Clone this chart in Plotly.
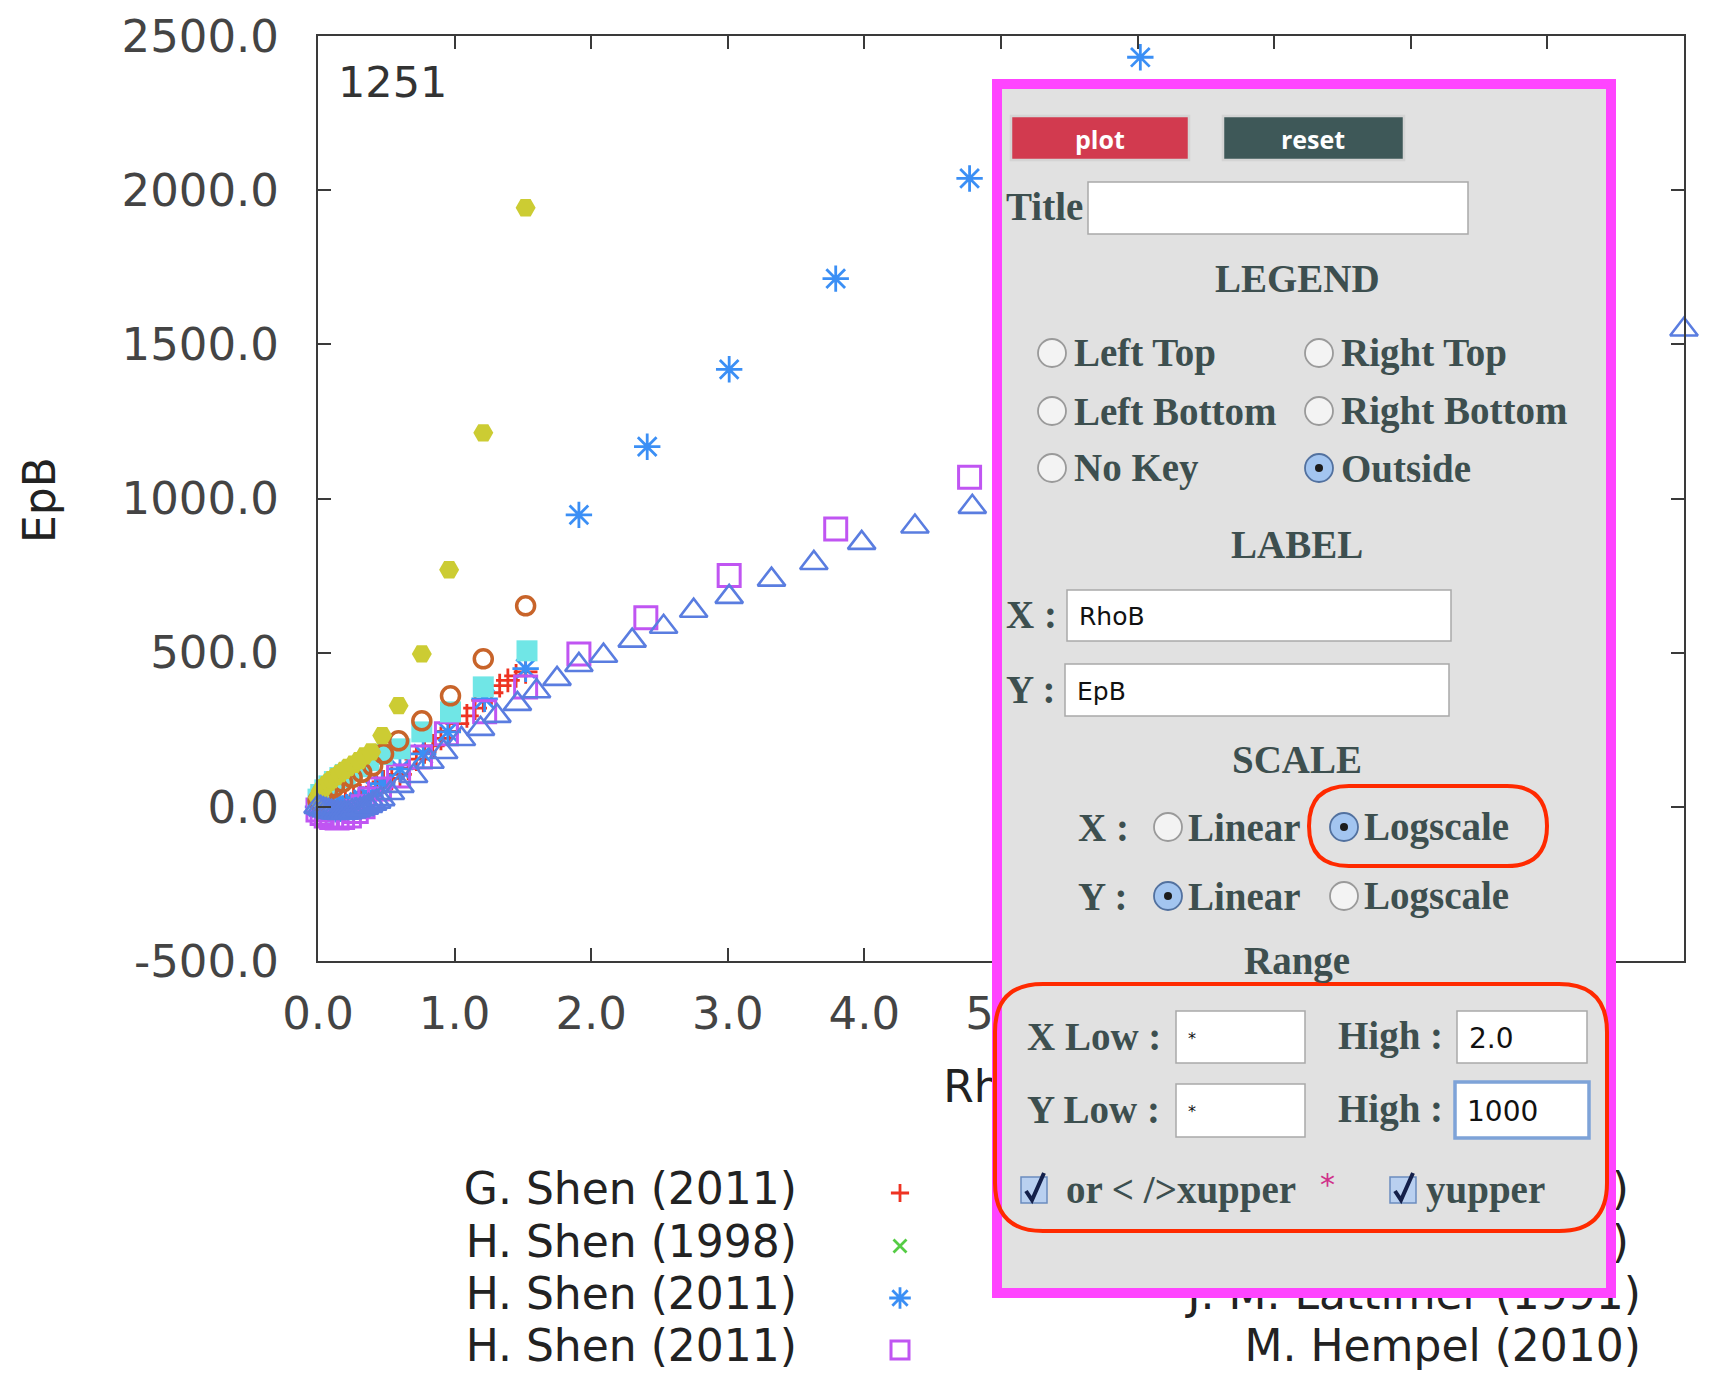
import plotly.graph_objects as go

# ---------------- data ----------------
gshen11_x = [0.05,0.1,0.15,0.2,0.26,0.31,0.37,0.43,0.48,0.54,0.6,0.66,0.72,0.78,0.84,0.9,0.96,1.02,1.09,1.15,1.21,1.27,1.33,1.39,1.45,1.52]
gshen11_y = [5,8,12,18,27,36,48,64,81,92,105,125,155,178,198,222,245,270,295,320,345,370,393,410,425,438]

hshen98_x = []
hshen98_y = []

hshen11a_x = [0.0,0.02,0.04,0.06,0.08,0.1,0.13,0.16,0.18,0.21,0.24,0.27,0.3,0.33,0.37,0.42,0.47,0.6,0.77,0.95,1.22,1.52,1.91,2.41,3.01,3.79,4.77,6.02]
hshen11a_y = [0,-3,-5,-7,-8,-8,-8,-6,-5,-1,3,9,15,24,35,52,75,123,172,243,350,448,947,1168,1419,1713,2038,2431]

hshen11b_x = [0.0,0.03,0.06,0.1,0.14,0.18,0.23,0.28,0.33,0.38,0.45,0.59,0.75,0.94,1.22,1.52,1.91,2.40,3.01,3.79,4.77]
hshen11b_y = [-10,-22,-30,-35,-36,-35,-30,-15,0,25,58,100,162,237,308,389,496,613,750,901,1069]

col2a_x = [0.0,0.02,0.05,0.08,0.12,0.16,0.2,0.25,0.3,0.37,0.47,0.6,0.76,0.97,1.21,1.53]
col2a_y = [25,40,55,68,82,95,105,118,130,150,170,188,243,308,389,506]

col2b_x = [0.0,0.03,0.07,0.12,0.18,0.25,0.32,0.40,0.48,0.59,0.76,0.97,1.21,1.52]
col2b_y = [20,35,50,65,80,95,112,133,172,214,279,360,480,652]

lattimer_x = [0.0,0.01,0.02,0.04,0.06,0.08,0.1,0.13,0.16,0.19,0.22,0.26,0.3,0.34,0.39,0.47,0.59,0.76,0.96,1.21,1.52]
lattimer_y = [30,42,52,62,72,80,88,98,108,118,128,138,150,165,178,231,328,496,769,1213,1943]

hempel_x = [0.0,0.02,0.04,0.06,0.08,0.1,0.12,0.145,0.17,0.195,0.22,0.25,0.28,0.31,0.34,0.37,0.40,0.43,0.46,0.53,0.60,0.70,0.82,0.92,1.05,1.19,1.31,1.46,1.60,1.75,1.91,2.09,2.30,2.53,2.75,3.01,3.32,3.63,3.98,4.37,4.79,10.0]
hempel_y = [0,-4,-8,-11,-14,-16,-18,-19,-20,-19,-18,-15,-12,-8,-3,3,10,17,25,45,68,100,146,178,220,253,295,334,375,415,460,490,539,584,636,681,737,791,856,909,973,1548]

legend_left = ["G. Shen (2011)", "H. Shen (1998)", "H. Shen (2011)", "H. Shen (2011)"]
legend_right = ["S. Furusawa (2011)", "C. Ishizuka (2008)", "J. M. Lattimer (1991)", "M. Hempel (2010)"]

x_ticks = [0,1,2,3,4,5,6,7,8,9,10]
x_tick_labels = ["0.0","1.0","2.0","3.0","4.0","5.0","6.0","7.0","8.0","9.0","10.0"]
y_ticks = [-500,0,500,1000,1500,2000,2500]
y_tick_labels = ["-500.0","0.0","500.0","1000.0","1500.0","2000.0","2500.0"]

x_label = "RhoB"
y_label = "EpB"
corner_text = "1251"

# ---------------- layout geometry (page pixels) ----------------
OFF = 8                      # default page body margin
W, H = 1712, 1362            # figure size
PL, PR, PT, PB = 318, 1684, 36, 961   # plot frame, page pixels

series = [
    (gshen11_x, gshen11_y, dict(symbol="cross-thin-open", size=17, color="#ee3322", line=dict(width=2.8, color="#ee3322"))),
    (hshen98_x, hshen98_y, dict(symbol="x-thin-open", size=17, color="#55cc44", line=dict(width=2.8, color="#55cc44"))),
    (hshen11a_x, hshen11a_y, dict(symbol="asterisk-open", size=22, color="#3b8ff5", line=dict(width=2.8, color="#3b8ff5"))),
    (hshen11b_x, hshen11b_y, dict(symbol="square-open", size=22, color="#c055f2", line=dict(width=3, color="#c055f2"))),
    (col2a_x, col2a_y, dict(symbol="square", size=21, color="#70e6e6", line=dict(width=0))),
    (col2b_x, col2b_y, dict(symbol="circle-open", size=18, color="#c8642a", line=dict(width=3.5, color="#c8642a"))),
    (lattimer_x, lattimer_y, dict(symbol="hexagon2", size=20, color="#cccc33", line=dict(width=0))),
    (hempel_x, hempel_y, dict(symbol="triangle-up-open", size=24, color="#5a7de0", line=dict(width=2.6, color="#5a7de0"))),
]

fig = go.Figure()

for xs, ys, mk in series:
    fig.add_trace(go.Scatter(x=xs, y=ys, mode="markers", marker=mk, cliponaxis=False,
                             xaxis="x", yaxis="y", showlegend=False, hoverinfo="skip"))

# ---------- legend (pixel overlay axes x2/y2) ----------
leg_rows = [1193, 1246, 1298, 1350]
leg_right_x = [1629, 1629, 1641, 1641]
fig.add_trace(go.Scatter(x=[797]*4, y=leg_rows, mode="text", text=legend_left,
                         textposition="middle left",
                         textfont=dict(family="DejaVu Sans", size=44, color="#222222"),
                         xaxis="x2", yaxis="y2", showlegend=False, hoverinfo="skip", cliponaxis=False))
fig.add_trace(go.Scatter(x=leg_right_x, y=leg_rows, mode="text", text=legend_right,
                         textposition="middle left",
                         textfont=dict(family="DejaVu Sans", size=44, color="#222222"),
                         xaxis="x2", yaxis="y2", showlegend=False, hoverinfo="skip", cliponaxis=False))
for i in range(4):
    mk = dict(series[i][2]); mk = {**mk, "size": mk["size"] - 4}
    fig.add_trace(go.Scatter(x=[900], y=[leg_rows[i]], mode="markers", marker=mk,
                             xaxis="x2", yaxis="y2", showlegend=False, hoverinfo="skip"))
# x-axis title as text trace so the panel can cover it
fig.add_trace(go.Scatter(x=[1001], y=[1091], mode="text", text=[x_label], textposition="middle center",
                         textfont=dict(family="DejaVu Sans", size=44, color="#222222"),
                         xaxis="x2", yaxis="y2", showlegend=False, hoverinfo="skip", cliponaxis=False))

shapes = []
annos = []

def rect(x0, y0, x1, y1, fill, line="rgba(0,0,0,0)", lw=0):
    shapes.append(dict(type="rect", xref="x2", yref="y2", x0=x0, y0=y0, x1=x1, y1=y1,
                       fillcolor=fill, line=dict(color=line, width=lw), layer="above"))

def rrect(x0, y0, x1, y1, r, color, lw):
    p = (f"M {x0+r},{y0} L {x1-r},{y0} Q {x1},{y0} {x1},{y0+r} L {x1},{y1-r} Q {x1},{y1} {x1-r},{y1} "
         f"L {x0+r},{y1} Q {x0},{y1} {x0},{y1-r} L {x0},{y0+r} Q {x0},{y0} {x0+r},{y0} Z")
    shapes.append(dict(type="path", xref="x2", yref="y2", path=p, line=dict(color=color, width=lw),
                       fillcolor="rgba(0,0,0,0)", layer="above"))

def text(x, y, s, size=39, color="#3d4f4f", family="Liberation Serif", anchor="left", bold=True):
    annos.append(dict(xref="x2", yref="y2", x=x, y=y, text=(f"<b>{s}</b>" if bold else s),
                      showarrow=False, xanchor=anchor, yanchor="middle",
                      font=dict(family=family, size=size, color=color)))

def radio(cx, cy, selected):
    r = 14
    if selected:
        shapes.append(dict(type="circle", xref="x2", yref="y2", x0=cx-r, x1=cx+r, y0=cy-r, y1=cy+r,
                           fillcolor="#a3c5f0", line=dict(color="#52719f", width=1.8), layer="above"))
        shapes.append(dict(type="circle", xref="x2", yref="y2", x0=cx-4, x1=cx+4, y0=cy-4, y1=cy+4,
                           fillcolor="#1c1c1c", line=dict(width=0), layer="above"))
    else:
        shapes.append(dict(type="circle", xref="x2", yref="y2", x0=cx-r, x1=cx+r, y0=cy-r, y1=cy+r,
                           fillcolor="#f3f3f3", line=dict(color="#9a9a9a", width=1.8), layer="above"))

def inputbox(x0, y0, x1, y1, val="", focus=False, vsize=26):
    if focus:
        rect(x0, y0, x1, y1, "#ffffff", "#7ea3d8", 3.5)
    else:
        rect(x0, y0, x1, y1, "#ffffff", "#a9a9a9", 1.5)
    if val:
        text(x0 + 10, (y0 + y1) / 2 + 1, val, size=vsize, color="#111111", family="DejaVu Sans", bold=False)

def checkbox(cx, cy):
    s = 13
    rect(cx-s, cy-s, cx+s, cy+s, "#b9d0f0", "#6b8cbf", 1.5)
    shapes.append(dict(type="path", xref="x2", yref="y2",
                       path=f"M {cx-8},{cy+1} L {cx-2},{cy+10} L {cx+10},{cy-17}",
                       line=dict(color="#14204a", width=4), layer="above"))

# panel
rect(997, 84, 1611, 1293, "#e1e1e1", "#ff44ff", 10)
# buttons
rect(1011, 116, 1189, 160, "#d23a4f", "#d4d4d4", 2.5)
rect(1223, 116, 1404, 160, "#3e5858", "#d4d4d4", 2.5)
text(1100, 139, "plot", size=25, color="#ffffff", family="Open Sans", anchor="center")
text(1313, 139, "reset", size=25, color="#ffffff", family="Open Sans", anchor="center")
# title
text(1004, 206, "Title")
inputbox(1088, 182, 1468, 234)
text(1297, 278, "LEGEND", anchor="center")
for (cx, lx, row, lab, sel) in [(1052, 1072, 353, "Left Top", False), (1319, 1339, 353, "Right Top", False),
                                (1052, 1072, 411, "Left Bottom", False), (1319, 1339, 411, "Right Bottom", False),
                                (1052, 1072, 468, "No Key", False), (1319, 1339, 468, "Outside", True)]:
    radio(cx, row, sel)
    text(lx, row, lab)
text(1297, 544, "LABEL", anchor="center")
text(1004, 614, "X :")
inputbox(1067, 590, 1451, 641, x_label, vsize=25)
text(1004, 689, "Y :")
inputbox(1065, 664, 1449, 716, y_label, vsize=25)
text(1297, 759, "SCALE", anchor="center")
text(1076, 827, "X :")
radio(1168, 827, False); text(1186, 827, "Linear")
radio(1344, 827, True); text(1362, 827, "Logscale")
text(1076, 896, "Y :")
radio(1168, 896, True); text(1186, 896, "Linear")
radio(1344, 896, False); text(1362, 896, "Logscale")
rrect(1309, 786, 1547, 866, 40, "#ff2a00", 4)
text(1297, 961, "Range", anchor="center")
rrect(995, 984, 1607, 1231, 48, "#ff2a00", 4)
text(1025, 1036, "X Low :")
inputbox(1176, 1011, 1305, 1063, "*", vsize=16)
text(1336, 1036, "High :")
inputbox(1457, 1011, 1587, 1063, "2.0", vsize=28)
text(1025, 1109, "Y Low :")
inputbox(1176, 1084, 1305, 1137, "*", vsize=16)
text(1336, 1109, "High :")
inputbox(1455, 1082, 1589, 1138, "1000", focus=True, vsize=28)
checkbox(1034, 1190)
text(1064, 1190, "or &lt; /&gt;xupper")
text(1318, 1184, "*", size=30, color="#d0308a", family="DejaVu Sans", bold=False)
checkbox(1403, 1190)
text(1424, 1190, "yupper")

# main-chart annotations
annos.append(dict(xref="x2", yref="y2", x=39, y=500, text=y_label, textangle=-90, showarrow=False,
                  xanchor="center", yanchor="middle", font=dict(family="DejaVu Sans", size=44, color="#222222")))
annos.append(dict(xref="x2", yref="y2", x=336, y=82, text=corner_text, showarrow=False,
                  xanchor="left", yanchor="middle", font=dict(family="DejaVu Sans", size=43, color="#333333")))

axis_common = dict(showgrid=False, zeroline=False, showline=True, linecolor="#3a3a3a", linewidth=2,
                   mirror="ticks", ticks="inside", ticklen=13, tickwidth=2, tickcolor="#3a3a3a",
                   automargin=False,
                   tickfont=dict(family="DejaVu Sans", size=45, color="#444444"))

fig.update_layout(
    template="none",
    width=W, height=H, autosize=False, margin=dict(l=0, r=0, t=0, b=0, pad=0),
    paper_bgcolor="#ffffff", plot_bgcolor="rgba(0,0,0,0)", showlegend=False,
    xaxis=dict(domain=[(PL - OFF) / W, (PR - OFF) / W], range=[0, 10], tickvals=x_ticks,
               ticktext=x_tick_labels, anchor="y", ticklabelstandoff=12, **axis_common),
    yaxis=dict(domain=[(OFF + H - PB) / H, (OFF + H - PT) / H], range=[-500, 2500], tickvals=y_ticks,
               ticktext=y_tick_labels, anchor="x", ticklabelstandoff=28, **axis_common),
    xaxis2=dict(domain=[0, 1], range=[OFF, OFF + W], visible=False, anchor="y2", fixedrange=True, automargin=False),
    yaxis2=dict(domain=[0, 1], range=[OFF + H, OFF], visible=False, anchor="x2", fixedrange=True, automargin=False),
    shapes=shapes, annotations=annos,
)

fig.write_html("out.html")
